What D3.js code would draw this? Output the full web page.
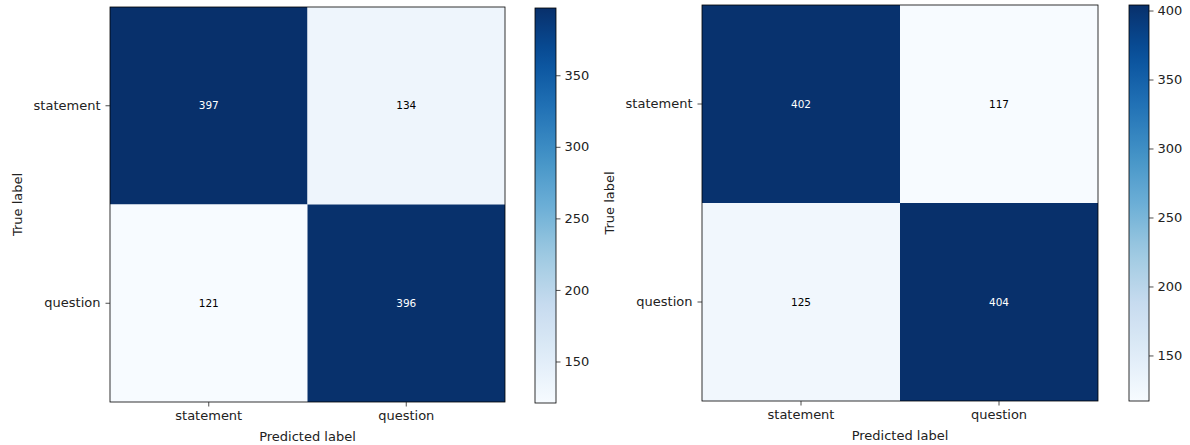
<!DOCTYPE html>
<html>
<head>
<meta charset="utf-8">
<script src="https://cdn.jsdelivr.net/npm/d3@7"></script>
<style>
  body { margin: 0; background: #fff; }
  svg { display: block; font-family: "DejaVu Sans", sans-serif; }
  .domain { display: none; }
</style>
</head>
<body>
<svg id="chart" width="1190" height="445"></svg>
<script>
// class labels and confusion matrices (rows = true label, cols = predicted)
const classes = ["statement", "question"];
const leftMatrix = [[397, 134], [121, 396]];
const rightMatrix = [[402, 117], [125, 404]];
const leftTicks = [150, 200, 250, 300, 350];
const rightTicks = [150, 200, 250, 300, 350, 400];

const svg = d3.select("#chart");

function drawMatrix(matrix, ticks, box, bar) {
  const flat = matrix.flat();
  const vmin = d3.min(flat), vmax = d3.max(flat);
  const blues = d3.schemeBlues[9];
  const color = d3.scaleLinear()
    .domain(blues.map((c, i) => vmin + i * (vmax - vmin) / 8))
    .range(blues)
    .interpolate(d3.interpolateRgb);

  const x = d3.scaleBand().domain(classes).range([box.x0, box.x1]);
  const y = d3.scaleBand().domain(classes).range([box.y0, box.y1]);

  const cells = [];
  matrix.forEach((row, i) => row.forEach((v, j) => cells.push({ t: classes[i], p: classes[j], v })));

  const g = svg.append("g");
  g.selectAll("rect.cell").data(cells).enter().append("rect")
    .attr("class", "cell")
    .attr("x", d => x(d.p)).attr("y", d => y(d.t))
    .attr("width", x.bandwidth()).attr("height", y.bandwidth())
    .attr("fill", d => color(d.v));

  g.selectAll("text.val").data(cells).enter().append("text")
    .attr("class", "val")
    .attr("x", d => x(d.p) + x.bandwidth() / 2)
    .attr("y", d => y(d.t) + y.bandwidth() / 2)
    .attr("dy", "0.35em")
    .attr("text-anchor", "middle")
    .attr("font-size", 10.5)
    .attr("fill", d => d.v > vmax / 2 ? "#fff" : "#000")
    .text(d => d.v);

  g.append("rect")
    .attr("x", box.x0).attr("y", box.y0)
    .attr("width", box.x1 - box.x0).attr("height", box.y1 - box.y0)
    .attr("fill", "none").attr("stroke", "#000").attr("stroke-width", 0.8);

  const xAxis = g.append("g")
    .attr("transform", `translate(0,${box.y1})`)
    .call(d3.axisBottom(x).tickSize(4.5).tickPadding(4));
  const yAxis = g.append("g")
    .attr("transform", `translate(${box.x0},0)`)
    .call(d3.axisLeft(y).tickSize(4.5).tickPadding(5));
  [xAxis, yAxis].forEach(a => {
    a.selectAll("text").attr("font-size", 13).attr("font-family", "DejaVu Sans").attr("fill", "#222");
    a.selectAll("line").attr("stroke", "#222").attr("stroke-width", 0.8);
  });

  g.append("text")
    .attr("x", (box.x0 + box.x1) / 2).attr("y", box.y1 + 39)
    .attr("text-anchor", "middle").attr("font-size", 13).attr("fill", "#222")
    .text("Predicted label");
  g.append("text")
    .attr("transform", `translate(${box.x0 - 93},${(box.y0 + box.y1) / 2}) rotate(-90)`)
    .attr("text-anchor", "middle").attr("dy", "0.35em").attr("font-size", 13).attr("fill", "#222")
    .text("True label");

  // colorbar
  const cy = d3.scaleLinear().domain([vmin, vmax]).range([bar.y1, bar.y0]);
  const gid = "grad" + box.x0;
  const grad = svg.append("defs").append("linearGradient")
    .attr("id", gid).attr("x1", 0).attr("y1", 1).attr("x2", 0).attr("y2", 0);
  grad.selectAll("stop").data(d3.range(0, 1.0001, 0.05)).enter().append("stop")
    .attr("offset", d => d)
    .attr("stop-color", d => color(vmin + d * (vmax - vmin)));
  g.append("rect")
    .attr("x", bar.x0).attr("y", bar.y0)
    .attr("width", bar.x1 - bar.x0).attr("height", bar.y1 - bar.y0)
    .attr("fill", `url(#${gid})`).attr("stroke", "#000").attr("stroke-width", 0.8);
  const cAxis = g.append("g")
    .attr("transform", `translate(${bar.x1},0)`)
    .call(d3.axisRight(cy).tickValues(ticks).tickSize(4.5).tickPadding(4));
  cAxis.selectAll("text").attr("font-size", 13).attr("font-family", "DejaVu Sans").attr("fill", "#222");
  cAxis.selectAll("line").attr("stroke", "#222").attr("stroke-width", 0.8);
}

drawMatrix(leftMatrix, leftTicks,
  { x0: 110, x1: 505, y0: 7, y1: 402 },
  { x0: 535, x1: 556, y0: 8, y1: 403 });
drawMatrix(rightMatrix, rightTicks,
  { x0: 702, x1: 1098, y0: 5, y1: 401 },
  { x0: 1129, x1: 1149, y0: 5, y1: 401 });
</script>
</body>
</html>
